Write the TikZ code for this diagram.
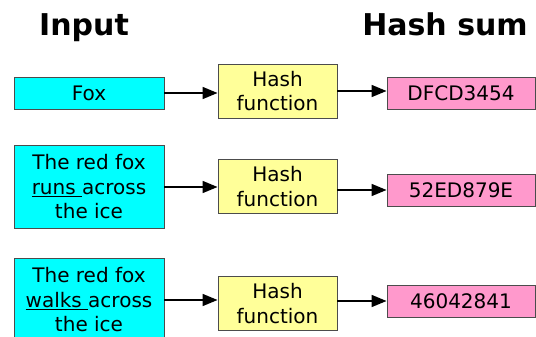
\documentclass[tikz,border=0pt]{standalone}
\usepackage{fontspec}
\setmainfont{DejaVu Sans}
\usetikzlibrary{arrows.meta}

\definecolor{inputcyan}{HTML}{00FFFF}
\definecolor{hashyellow}{HTML}{FFFF99}
\definecolor{sumpink}{HTML}{FF99CC}

\tikzset{
	box/.style={draw=black!70, line width=0.9pt, inner sep=0pt, align=center,
		font=\fontsize{20}{24.5}\selectfont},
	inbox/.style={box, fill=inputcyan, minimum width=150pt},
	hashbox/.style={box, fill=hashyellow, minimum width=119pt, minimum height=54pt},
	sumbox/.style={box, fill=sumpink, minimum width=148pt, minimum height=32pt},
	title/.style={font=\fontsize{30}{36}\selectfont\bfseries, anchor=base},
	flow/.style={-{Triangle[length=15pt,width=12pt]}, line width=1.6pt}
}

\begin{document}
\begin{tikzpicture}[x=1pt,y=-1pt]
		\useasboundingbox (0,0) rectangle (536,337);
		\clip (0,0) rectangle (536,337);

		\node[title] (intitle) at (84,36) {Input};
		\node[title] (sumtitle) at (445,36) {Hash sum};

		\node[inbox, minimum height=32pt] (in1) at (89,93) {Fox};
		\node[hashbox] (hf1) at (277.5,91) {Hash\\function};
		\node[sumbox] (sum1) at (461,93) {DFCD3454};

		\node[inbox, minimum height=83pt] (in2) at (89,187) {The red fox\\\underline{runs\ }across\\the ice};
		\node[hashbox] (hf2) at (277.5,186.5) {Hash\\function};
		\node[sumbox] (sum2) at (461,190) {52ED879E};

		\node[inbox, minimum height=84pt] (in3) at (89,300) {The red fox\\\underline{walks\ }across\\the ice};
		\node[hashbox] (hf3) at (277.5,303.5) {Hash\\function};
		\node[sumbox] (sum3) at (461,301) {46042841};

		\draw[flow] (in1.east) -- (in1.east -| hf1.west);
		\draw[flow] (hf1.east) -- (hf1.east -| sum1.west);
		\draw[flow] (in2.east) -- (in2.east -| hf2.west);
		\draw[flow] (sum2.west -| hf2.east) -- (sum2.west);
		\draw[flow] (in3.east) -- (in3.east -| hf3.west);
		\draw[flow] (sum3.west -| hf3.east) -- (sum3.west);
	\end{tikzpicture}
\end{document}
